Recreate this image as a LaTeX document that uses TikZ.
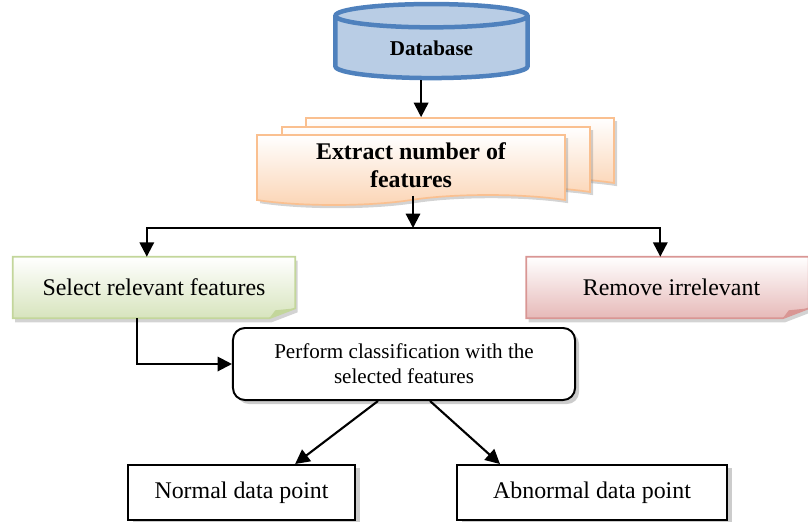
\documentclass[tikz,border=0pt]{standalone}
\usepackage{fontspec}
\setmainfont{Liberation Serif}
\usetikzlibrary{shapes.geometric,shapes.symbols,arrows.meta,positioning,shadows,backgrounds}

\definecolor{dbline}{HTML}{4F81BD}
\definecolor{dbfill}{HTML}{B9CDE5}
\definecolor{docline}{HTML}{FAC090}
\definecolor{docfill}{HTML}{FBD4B4}
\definecolor{selline}{HTML}{C3D69B}
\definecolor{selfill}{HTML}{D7E4BD}
\definecolor{remline}{HTML}{D99694}
\definecolor{remfill}{HTML}{E6B9B8}

\begin{document}
\begin{tikzpicture}[x=0.025cm, y=-0.025cm,
    database/.style={cylinder, shape border rotate=90, aspect=0.28, draw=dbline, line width=3.2pt, fill=dbfill, minimum width=4.8cm, minimum height=1.85cm, inner sep=0pt, font=\fontsize{15}{18}\selectfont\bfseries},
    doc/.style={tape, tape bend top=none, tape bend bottom=in and out, tape bend height=0.25cm, draw=docline, line width=1.2pt, top color=white, bottom color=docfill, minimum width=7.7cm, minimum height=1.75cm, inner sep=0pt, drop shadow={opacity=0.35, shadow xshift=0.08cm, shadow yshift=-0.08cm}},
    label/.style={rectangle, minimum width=7.05cm, minimum height=1.525cm, inner sep=0pt, font=\fontsize{17}{20}\selectfont},
    selbox/.style={draw=selline, line width=1.2pt, top color=white, bottom color=selfill, drop shadow={opacity=0.35, shadow xshift=0.06cm, shadow yshift=-0.1cm}},
    rembox/.style={draw=remline, line width=1.2pt, top color=white, bottom color=remfill, drop shadow={opacity=0.35, shadow xshift=0.06cm, shadow yshift=-0.1cm}},
    process/.style={rectangle, draw, line width=1.4pt, rounded corners=0.3cm, fill=white, minimum width=8.55cm, minimum height=1.8cm, align=center, font=\fontsize{15}{18}\selectfont, drop shadow={opacity=0.4, shadow xshift=0.1cm, shadow yshift=-0.1cm}},
    result/.style={rectangle, draw, line width=1.4pt, fill=white, minimum height=1.375cm, font=\fontsize{17}{20}\selectfont, drop shadow={opacity=0.4, shadow xshift=0.12cm, shadow yshift=-0.08cm}},
    arrow/.style={-{Triangle[length=0.36cm, width=0.36cm]}, line width=1.5pt}]

    \useasboundingbox (0,0) rectangle (808,521);

    \node[database] (db) at (431.5,48) {Database};

    % stacked documents, back to front
    \node[doc] (docA) at (460,148) {};
    \node[doc] (docB) at (436,157) {};
    \node[doc, align=center, font=\fontsize{17}{20}\selectfont\bfseries] (docC) at (411,165) {Extract number of\\features};

    \node[label] (sel) at (154,287.5) {Select relevant features};
    \node[label] (rem) at (667.5,287.5) {\hspace*{0.2cm}Remove irrelevant};

    \begin{scope}[on background layer]
        \path[selbox] (sel.north west) -- (sel.north east) -- ([yshift=0.25cm]sel.south east) -- ([xshift=-0.65cm]sel.south east) -- (sel.south west) -- cycle;
        \fill[selline] ([xshift=-0.65cm]sel.south east) -- ([xshift=-0.5cm,yshift=0.2cm]sel.south east) -- ([yshift=0.25cm]sel.south east) -- cycle;
        \path[rembox] (rem.north west) -- (rem.north east) -- ([yshift=0.25cm]rem.south east) -- ([xshift=-0.65cm]rem.south east) -- (rem.south west) -- cycle;
        \fill[remline] ([xshift=-0.65cm]rem.south east) -- ([xshift=-0.5cm,yshift=0.2cm]rem.south east) -- ([yshift=0.25cm]rem.south east) -- cycle;
    \end{scope}

    \node[process] (perf) at (404,364) {Perform classification with the\\selected features};
    \node[result, minimum width=5.675cm] (normal) at (241.5,492.5) {Normal data point};
    \node[result, minimum width=6.75cm] (abnormal) at (592,492.5) {Abnormal data point};

    \coordinate (split) at (413,228);

    \draw[arrow] ([xshift=-0.26cm]db.south) -- ([xshift=-0.26cm]db.south |- docA.north);
    \draw[arrow] (docC.south -| split) -- (split);
    \draw[arrow] (split) -| ([xshift=-0.18cm]sel.north);
    \draw[arrow] (split) -| ([xshift=-0.18cm]rem.north);
    \draw[arrow] ([xshift=-0.43cm]sel.south) |- (perf.west);
    \draw[arrow] ([xshift=-0.65cm]perf.south) -- ([xshift=1.34cm]normal.north);
    \draw[arrow] ([xshift=0.65cm]perf.south) -- ([xshift=-2.3cm]abnormal.north);
\end{tikzpicture}
\end{document}
